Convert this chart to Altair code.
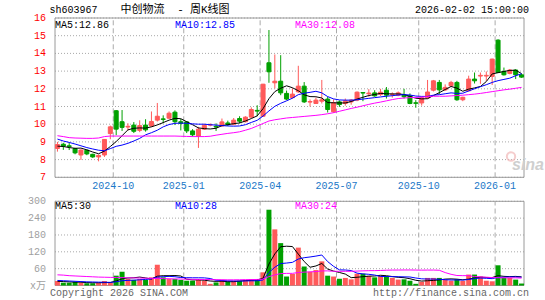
import altair as alt
import pandas as pd

# ---------------- data (weekly candles) ----------------
OPEN = [8.63, 8.87, 8.78, 8.62, 8.26, 8.53, 8.30, 8.15, 8.26, 9.47,
        10.76, 10.14, 9.84, 9.95, 9.65, 9.95, 9.90, 10.23, 10.30, 10.34,
        10.68, 10.14, 10.13, 9.62, 9.32, 9.72, 9.95, 9.88, 9.90, 10.07,
        10.00, 10.32, 10.14, 10.40, 10.78, 10.45, 13.47, 12.34, 12.43, 11.74,
        11.50, 11.83, 12.15, 11.25, 11.17, 11.30, 11.42, 10.70, 11.26, 11.17,
        11.26, 11.36, 11.79, 11.72, 11.77, 11.68, 11.92, 11.68, 11.64, 11.64,
        11.60, 11.21, 11.20, 11.49, 11.92, 12.36, 11.94, 12.17, 12.36, 11.38,
        11.89, 12.55, 12.72, 12.72, 12.70, 14.75, 12.98, 12.87, 13.06, 12.79]
CLOSE = [8.85, 8.76, 8.74, 8.38, 8.54, 8.32, 8.15, 8.24, 9.14, 9.85,
         9.72, 9.82, 9.88, 9.60, 9.92, 9.68, 10.15, 10.45, 10.27, 10.62,
         10.14, 10.05, 9.62, 9.40, 9.72, 9.94, 9.97, 9.84, 10.13, 9.98,
         10.23, 10.17, 10.40, 10.83, 10.74, 12.26, 12.96, 12.43, 11.77, 11.42,
         11.70, 12.15, 11.26, 11.28, 11.36, 11.38, 10.83, 11.21, 11.11, 11.32,
         11.36, 11.81, 11.76, 11.76, 11.60, 11.81, 11.64, 11.70, 11.77, 11.55,
         11.17, 11.18, 11.49, 11.82, 12.45, 11.94, 12.08, 12.36, 11.38, 11.52,
         12.55, 12.45, 12.76, 12.76, 13.68, 12.92, 12.79, 13.06, 12.79, 12.66]
HIGH = [9.00, 8.95, 8.97, 8.66, 8.58, 8.56, 8.33, 8.28, 9.16, 9.92,
        10.80, 10.80, 10.05, 10.12, 10.22, 10.28, 10.72, 11.20, 10.50, 10.72,
        10.78, 10.30, 10.18, 9.72, 9.85, 10.02, 10.05, 10.05, 10.32, 10.20,
        10.35, 10.45, 10.45, 10.95, 11.07, 12.28, 15.32, 13.94, 13.90, 11.90,
        12.02, 13.30, 12.38, 11.40, 11.50, 12.50, 11.55, 11.40, 11.34, 11.45,
        11.42, 11.85, 11.80, 11.98, 11.92, 12.00, 12.10, 11.80, 11.85, 12.00,
        11.74, 11.36, 11.55, 12.50, 12.50, 12.50, 12.25, 12.45, 12.45, 11.55,
        12.74, 12.92, 12.92, 12.98, 13.70, 14.80, 13.20, 13.12, 13.10, 12.85]
LOW = [8.45, 8.55, 8.54, 8.30, 7.98, 8.25, 8.10, 7.90, 8.15, 9.15,
       9.38, 9.62, 9.65, 9.50, 9.55, 9.58, 9.85, 10.15, 10.05, 10.30,
       9.95, 9.65, 9.50, 9.30, 8.66, 9.68, 9.88, 9.62, 9.85, 9.90,
       9.95, 10.05, 10.10, 10.35, 10.45, 10.42, 12.34, 12.02, 11.64, 11.36,
       11.45, 11.77, 11.20, 11.00, 11.15, 11.17, 10.66, 10.64, 10.98, 11.05,
       11.10, 11.30, 11.30, 11.55, 11.55, 11.60, 11.45, 11.50, 11.58, 11.45,
       11.13, 10.93, 11.05, 11.45, 11.85, 11.70, 11.88, 12.10, 11.32, 11.30,
       11.85, 12.30, 12.28, 12.45, 12.22, 12.90, 12.75, 12.82, 12.55, 12.62]

MA5 = [8.76, 8.74, 8.68, 8.64, 8.65, 8.55, 8.43, 8.33, 8.48, 8.74,
       9.02, 9.35, 9.68, 9.77, 9.79, 9.78, 9.85, 9.96, 10.09, 10.23,
       10.33, 10.31, 10.14, 9.97, 9.79, 9.75, 9.73, 9.77, 9.92, 9.97,
       10.03, 10.07, 10.18, 10.32, 10.47, 10.88, 11.44, 11.84, 12.03, 12.17,
       12.06, 11.89, 11.66, 11.56, 11.55, 11.48, 11.22, 11.21, 11.20, 11.20,
       11.28, 11.42, 11.52, 11.62, 11.68, 11.74, 11.72, 11.71, 11.71, 11.68,
       11.57, 11.47, 11.43, 11.44, 11.62, 11.78, 11.96, 12.13, 12.04, 11.86,
       11.98, 12.05, 12.13, 12.41, 12.84, 12.91, 12.98, 13.04, 13.05, 12.86]
MA10 = [9.16, 9.05, 8.97, 8.88, 8.78, 8.68, 8.60, 8.53, 8.50, 8.62,
        8.75, 8.82, 8.92, 9.05, 9.20, 9.40, 9.52, 9.66, 9.85, 9.98,
        10.05, 10.06, 10.05, 10.02, 10.00, 10.00, 9.97, 9.95, 9.92, 9.90,
        9.89, 9.90, 9.97, 10.10, 10.22, 10.46, 10.75, 11.01, 11.18, 11.32,
        11.47, 11.67, 11.75, 11.80, 11.86, 11.77, 11.56, 11.43, 11.37, 11.36,
        11.36, 11.38, 11.42, 11.46, 11.50, 11.54, 11.58, 11.61, 11.65, 11.67,
        11.65, 11.59, 11.57, 11.57, 11.64, 11.67, 11.72, 11.77, 11.74, 11.75,
        11.88, 12.00, 12.12, 12.23, 12.36, 12.46, 12.53, 12.60, 12.74, 12.85]
MA30 = [9.35, 9.30, 9.24, 9.22, 9.21, 9.20, 9.20, 9.22, 9.30, 9.33,
        9.33, 9.33, 9.33, 9.33, 9.33, 9.33, 9.33, 9.33, 9.33, 9.33,
        9.33, 9.32, 9.31, 9.30, 9.30, 9.30, 9.32, 9.38, 9.43, 9.48,
        9.52, 9.57, 9.66, 9.76, 9.90, 10.04, 10.18, 10.25, 10.30, 10.35,
        10.38, 10.41, 10.44, 10.47, 10.50, 10.54, 10.59, 10.65, 10.73, 10.81,
        10.89, 10.96, 11.04, 11.12, 11.19, 11.25, 11.32, 11.39, 11.45, 11.48,
        11.50, 11.51, 11.53, 11.56, 11.58, 11.58, 11.58, 11.60, 11.62, 11.64,
        11.67, 11.70, 11.74, 11.79, 11.84, 11.89, 11.94, 11.98, 12.03, 12.08]

VOL = [16, 10, 10, 13, 10, 8, 8, 10, 16, 11,
       35, 49, 23, 20, 23, 20, 29, 74, 29, 23,
       23, 20, 17, 17, 23, 17, 6, 11, 20, 14,
       17, 17, 20, 23, 23, 47, 270, 200, 151, 32,
       41, 135, 68, 49, 55, 86, 35, 32, 24, 27,
       22, 42, 42, 34, 29, 35, 34, 27, 21, 22,
       17, 6, 13, 27, 27, 27, 20, 17, 22, 16,
       39, 39, 32, 17, 15, 72, 27, 27, 21, 7]
VMA5 = [15, 14, 13, 12, 11.8, 10.2, 9.8, 9.8, 10.4, 10.6,
        16.0, 24.2, 26.8, 27.6, 30.0, 27.0, 23.0, 33.2, 35.0, 35.0,
        35.6, 33.8, 22.4, 20.0, 20.0, 18.8, 16.0, 14.8, 15.4, 13.6,
        13.6, 15.8, 17.6, 18.2, 20.0, 26.0, 76.6, 112.6, 138.2, 140.0,
        138.8, 111.8, 85.4, 65.0, 69.6, 78.6, 58.6, 51.4, 46.4, 40.8,
        28.0, 29.4, 31.4, 33.4, 33.8, 36.4, 34.8, 31.8, 29.2, 27.8,
        24.2, 18.6, 15.8, 17.0, 18.0, 20.0, 22.8, 23.6, 22.6, 20.4,
        22.8, 26.6, 29.6, 28.6, 28.4, 35.0, 32.6, 31.6, 32.4, 30.8]
VMA10 = [18, 17, 16, 15, 14, 13, 12.5, 12, 11.5, 11.2,
         13.1, 17.0, 18.3, 19.0, 20.3, 21.5, 23.6, 30.0, 31.3, 32.5,
         31.3, 28.4, 27.8, 27.5, 27.5, 27.2, 24.9, 18.6, 17.7, 16.8,
         16.2, 15.9, 16.2, 16.8, 16.8, 19.8, 46.2, 65.1, 78.2, 80.0,
         82.4, 94.2, 99.0, 101.6, 104.8, 108.7, 85.2, 68.4, 55.7, 55.2,
         53.3, 44.0, 41.4, 39.9, 37.3, 32.2, 32.1, 31.6, 31.3, 30.8,
         30.3, 26.7, 23.8, 23.1, 22.9, 22.1, 20.7, 19.7, 19.8, 19.2,
         21.4, 24.7, 26.6, 25.6, 24.4, 28.9, 29.6, 30.6, 30.5, 29.6]
VMA30 = [38, 37, 35, 34, 33, 32, 31, 30, 29.5, 29,
         28.5, 28, 27.5, 27, 26.5, 26, 25.5, 25, 24.5, 24,
         23.5, 23, 22.5, 22, 21.5, 21.2, 21, 20.8, 20.5, 20.2,
         20.2, 20.4, 20.8, 21.1, 21.5, 22.8, 31.6, 37.9, 42.4, 43.1,
         43.3, 46.2, 47.7, 48.6, 49.7, 51.9, 52.1, 50.7, 50.5, 50.7,
         50.6, 51.4, 52.2, 52.8, 53.0, 53.6, 54.5, 55.0, 55.1, 55.3,
         55.3, 55.0, 54.7, 54.9, 55.0, 54.3, 46.0, 39.9, 35.6, 35.1,
         35.0, 31.8, 30.6, 29.5, 28.2, 27.7, 27.5, 27.3, 27.2, 26.5]

MONTH_IDX = [10, 22, 35, 48, 62, 75]
MONTH_LABELS = ["2024-10", "2025-01", "2025-04", "2025-07", "2025-10", "2026-01"]
PRICE_TICKS = [7, 8, 9, 10, 11, 12, 13, 14, 15, 16]
PRICE_TICK_LABELS = ["7", "8", "9", "10", "11", "12", "13", "14", "15", "16"]
VOL_TICKS = [0, 60, 120, 180, 240, 300]
VOL_TICK_LABELS = ["x万", "60", "120", "180", "240", "300"]
PRICE_RANGE = [7, 16]
VOL_RANGE = [0, 300]

# ---------------- styling ----------------
RED = "#ff5a5a"
GREEN = "#00a000"
BLUE_TXT = "#1b78c8"
BORDER = "#9a9a9a"
GRID = "#a8a8a8"
MONO = "Liberation Mono"
MONO_CJK = "Liberation Mono, Noto Sans CJK SC"

n = len(CLOSE)
idx = list(range(n))
cdf = pd.DataFrame(dict(i=idx, o=OPEN, c=CLOSE, h=HIGH, l=LOW, v=VOL))
cdf["col"] = [RED if c >= o else GREEN for o, c in zip(OPEN, CLOSE)]

ma_df = pd.concat([
    pd.DataFrame(dict(i=idx, val=vals, ma=name, col=color))
    for name, vals, color in [("MA5", MA5, "#000000"), ("MA10", MA10, "#0000ff"), ("MA30", MA30, "#ff00ff")]
])
vma_df = pd.concat([
    pd.DataFrame(dict(i=idx, val=vals, ma=name, col=color))
    for name, vals, color in [("MA5", VMA5, "#000000"), ("MA10", VMA10, "#0000ff"), ("MA30", VMA30, "#ff00ff")]
])

X_DOMAIN = [-5 / 12, n - 1 + 5 / 12]
months = pd.DataFrame(dict(xm=[m - 0.5 for m in MONTH_IDX], label=MONTH_LABELS,
                           p0=PRICE_RANGE[0], p1=PRICE_RANGE[1], v0=VOL_RANGE[0], v1=VOL_RANGE[1]))
panel = pd.DataFrame(dict(x=[X_DOMAIN[0]], x2=[X_DOMAIN[1]], p0=[PRICE_RANGE[0]], p1=[PRICE_RANGE[1]],
                          v0=[VOL_RANGE[0]], v1=[VOL_RANGE[1]]))
pticks = pd.DataFrame(dict(t=PRICE_TICKS, lab=PRICE_TICK_LABELS, x0=X_DOMAIN[0], x1=X_DOMAIN[1]))
vticks = pd.DataFrame(dict(t=VOL_TICKS, lab=VOL_TICK_LABELS, x0=X_DOMAIN[0], x1=X_DOMAIN[1]))

XS = alt.Scale(domain=X_DOMAIN, nice=False, zero=False)
YP = alt.Scale(domain=PRICE_RANGE, range=[159.3, 0], nice=False, zero=False)
YV = alt.Scale(domain=VOL_RANGE, range=[267.5, 183.3], nice=False, zero=True)


def X(f):
    return alt.X(f, scale=XS, axis=None)


def YPf(f):
    return alt.Y(f, scale=YP, axis=None)


def YVf(f):
    return alt.Y(f, scale=YV, axis=None)


# ---------------- price panel ----------------
p_grid = alt.Chart(pticks).mark_rule(color=GRID, strokeDash=[1, 2], strokeWidth=1).encode(
    x=X("x0:Q"), x2="x1:Q", y=YPf("t:Q"))
p_labels = alt.Chart(pticks).mark_text(color="#ff0000", font=MONO, fontSize=10, align="right",
                                       baseline="middle").encode(
    x=alt.value(-4), y=YPf("t:Q"), text="lab:N")
p_border = alt.Chart(panel).mark_rect(fillOpacity=0, stroke=BORDER, strokeWidth=1).encode(
    x=X("x:Q"), x2="x2:Q", y=YPf("p0:Q"), y2="p1:Q")
p_rules = alt.Chart(months).mark_rule(color="#aaaaaa", strokeDash=[5, 3], strokeWidth=1).encode(
    x=X("xm:Q"), y=YPf("p0:Q"), y2="p1:Q")
wicks = alt.Chart(cdf).mark_rule(strokeWidth=1).encode(
    x=X("i:Q"), y=YPf("l:Q"), y2="h:Q", color=alt.Color("col:N", scale=None))
bodies = alt.Chart(cdf).mark_bar(size=4, strokeWidth=1).encode(
    x=X("i:Q"), y=YPf("o:Q"), y2="c:Q",
    color=alt.Color("col:N", scale=None), stroke=alt.Stroke("col:N", scale=None))
ma_lines = alt.Chart(ma_df).mark_line(strokeWidth=1).encode(
    x=X("i:Q"), y=YPf("val:Q"), color=alt.Color("col:N", scale=None), detail="ma:N")
month_text = alt.Chart(months).mark_text(color=BLUE_TXT, font=MONO, fontSize=10, dy=9,
                                         baseline="middle", align="center").encode(
    x=X("xm:Q"), y=YPf("p0:Q"), text="label:N")
price = alt.layer(p_grid, p_labels, p_rules, p_border, wicks, bodies, ma_lines, month_text)

# ---------------- volume panel ----------------
v_grid = alt.Chart(vticks).mark_rule(color=GRID, strokeDash=[1, 2], strokeWidth=1).encode(
    x=X("x0:Q"), x2="x1:Q", y=YVf("t:Q"))
v_labels = alt.Chart(vticks).mark_text(color="#a0a0a0", font=MONO_CJK, fontSize=10, align="right",
                                       baseline="middle").encode(
    x=alt.value(-4), y=YVf("t:Q"), text="lab:N")
v_border = alt.Chart(panel).mark_rect(fillOpacity=0, stroke=BORDER, strokeWidth=1).encode(
    x=X("x:Q"), x2="x2:Q", y=YVf("v0:Q"), y2="v1:Q")
v_rules = alt.Chart(months).mark_rule(color="#aaaaaa", strokeDash=[5, 3], strokeWidth=1).encode(
    x=X("xm:Q"), y=YVf("v0:Q"), y2="v1:Q")
v_bars = alt.Chart(cdf).mark_bar(size=5).encode(
    x=X("i:Q"), y=YVf("v:Q"), color=alt.Color("col:N", scale=None))
vma_lines = alt.Chart(vma_df).mark_line(strokeWidth=1).encode(
    x=X("i:Q"), y=YVf("val:Q"), color=alt.Color("col:N", scale=None), detail="ma:N")
volume = alt.layer(v_grid, v_labels, v_rules, v_border, v_bars, vma_lines)

# ---------------- annotations ----------------
one = pd.DataFrame({"k": [0]})


def txt(s, x, y, color="#000000", align="left", size=10, font=MONO, **kw):
    return alt.Chart(one).mark_text(text=s, align=align, baseline="middle", fontSize=size,
                                    font=font, color=color, **kw).encode(x=alt.value(x), y=alt.value(y))


texts = [
    txt("sh603967", -0.5, -8.5),
    txt("中创物流", 70.5, -8.5, size=11, font=MONO_CJK),
    txt("-", 130.6, -8.5, align="center", size=11),
    txt("周K线图", 140, -8.5, size=11, font=MONO_CJK),
    txt("2026-02-02 15:00:00", 479, -8.5, align="right"),
    txt("MA5:12.86", 5, 6.5),
    txt("MA10:12.85", 125, 6.5, color="#0000ff"),
    txt("MA30:12.08", 245, 6.5, color="#ff00ff"),
    txt("MA5:30", 5, 188),
    txt("MA10:28", 125, 188, color="#0000ff"),
    txt("MA30:24", 245, 188, color="#ff00ff"),
    txt("Copyright 2026 SINA.COM", 0, 274.5, color="#666666"),
    txt("http://finance.sina.com.cn", 479, 274.5, color="#666666", align="right"),
    txt("sina", 462, 147, color="#cfcfcf", size=16, font="Liberation Sans",
        fontStyle="italic", fontWeight="bold"),
    alt.Chart(one).mark_point(shape="circle", size=70, filled=False, stroke="#f2b8b8",
                              strokeWidth=2).encode(x=alt.value(461), y=alt.value(138.5)),
]

chart = alt.layer(price, volume, *texts).resolve_scale(y="independent").properties(
    width=479, height=267.5,
    autosize=alt.AutoSizeParams(type="none"),
    padding={"left": 50, "top": 18, "right": 16, "bottom": 14.5},
).configure_view(strokeWidth=0)

chart.save("out.html", embed_options={"renderer": "svg", "actions": False})
